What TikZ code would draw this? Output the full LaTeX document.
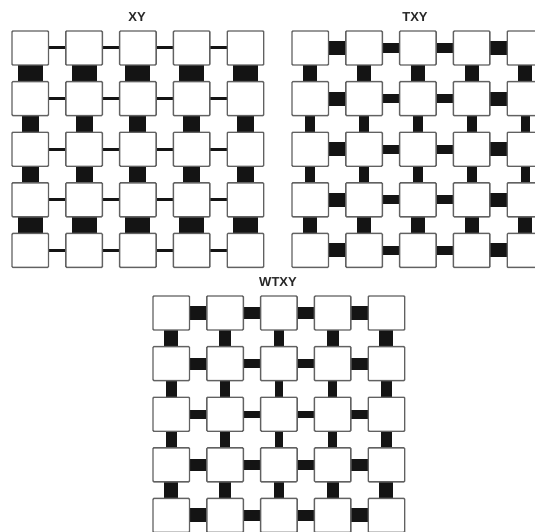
\documentclass[tikz,border=0pt]{standalone}
\usepackage{fontspec}
\setmainfont{Liberation Sans}
\usetikzlibrary{backgrounds}
\definecolor{cellgray}{gray}{0.38}
\definecolor{linkblack}{gray}{0.08}
\tikzset{
  cell/.style={draw=cellgray, fill=white, line width=1.4pt, rounded corners=0.9pt,
    minimum width=36.5pt, minimum height=34pt, inner sep=0pt},
  link/.style={draw=linkblack, line cap=butt},
  paneltitle/.style={font=\bfseries\fontsize{13}{15}\selectfont, text=black!85, inner sep=0pt}
}
% #1 prefix, #2 x0, #3 y0, #4 row/base list (horizontal links), #5 gap/factor list,
% #6 col/base list (vertical links), #7 gap/factor list
\newcommand\meshpanel[7]{%
  \foreach \r in {1,...,5}{
    \foreach \c in {1,...,5}{
      \node[cell] (#1-\r-\c) at ({#2+18.25+(\c-1)*53.8},{#3+17+(\r-1)*50.6}) {};
    }
  }
  \begin{scope}[on background layer]
    \foreach \r/\rb in {#4}{
      \foreach \g/\f in {#5}{
        \pgfmathtruncatemacro\gn{\g+1}
        \draw[link, line width=\rb*\f] (#1-\r-\g.center) -- (#1-\r-\gn.center);
      }
    }
    \foreach \c/\cb in {#6}{
      \foreach \g/\f in {#7}{
        \pgfmathtruncatemacro\gn{\g+1}
        \draw[link, line width=\cb*\f] (#1-\g-\c.center) -- (#1-\gn-\c.center);
      }
    }
  \end{scope}
}
\begin{document}
\begin{tikzpicture}[x=1pt,y=-1pt]
\clip (0,0) rectangle (535,532);
\begin{scope}[on background layer]
  \fill[white] (0,0) rectangle (535,532);
\end{scope}
% XY
\meshpanel{xy}{12}{31}{1/3,2/3,3/3,4/3,5/3}{1/1,2/1,3/1,4/1}%
  {1/25,2/25,3/25,4/25,5/25}{1/1,2/0.68,3/0.68,4/1}
\node[paneltitle] (t-xy) at (137,17.5) {XY};
% TXY
\meshpanel{txy}{292}{31}{1/14,2/14,3/14,4/14,5/14}{1/1,2/0.65,3/0.65,4/1}%
  {1/14,2/14,3/14,4/14,5/14}{1/1,2/0.7,3/0.7,4/1}
\node[paneltitle] (t-txy) at (415,17.5) {TXY};
% WTXY
\meshpanel{wtxy}{153}{296}{1/14,2/12,3/9,4/12,5/14}{1/1,2/0.8,3/0.8,4/1}%
  {1/14,2/12,3/10,4/12,5/14}{1/1,2/0.8,3/0.8,4/1}
\node[paneltitle] (t-wtxy) at (278,282.5) {WTXY};
\end{tikzpicture}
\end{document}
